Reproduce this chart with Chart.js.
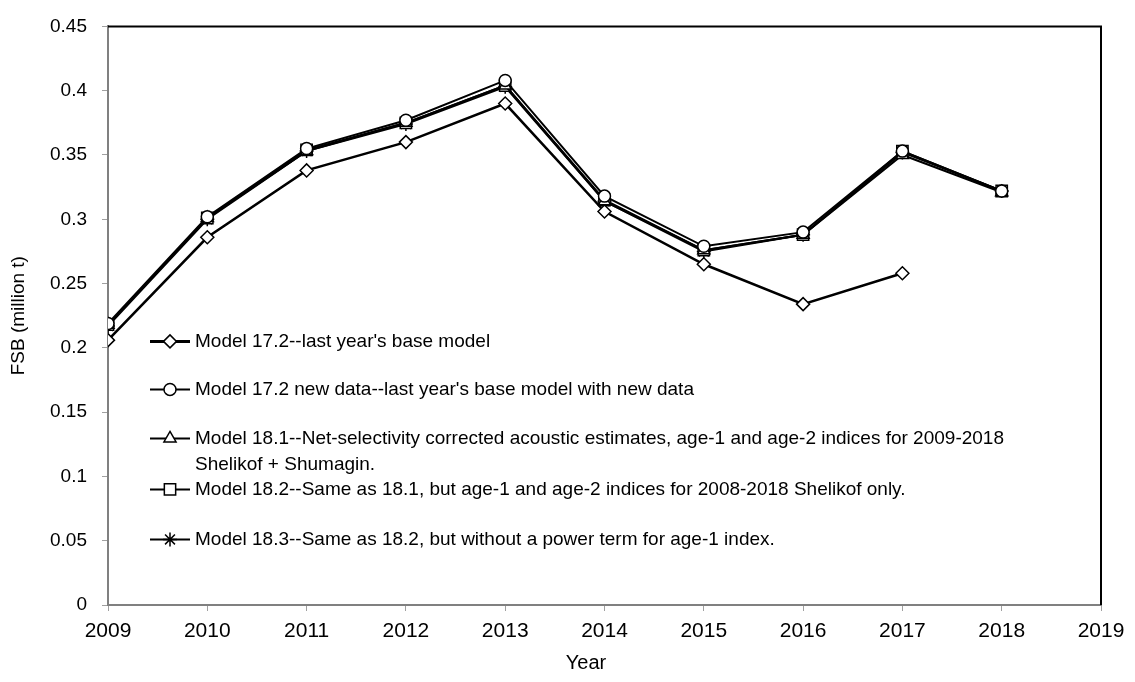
<!DOCTYPE html>
<html>
<head>
<meta charset="utf-8">
<script src="https://cdn.jsdelivr.net/npm/chart.js@4"></script>
<style>
  html, body { margin: 0; padding: 0; background: #fff; }
  #wrap { width: 1135px; height: 682px; }
</style>
</head>
<body>
<div id="wrap"><canvas id="myChart" width="1135" height="682"></canvas></div>
<script>
// years on the x axis
const years = [2009, 2010, 2011, 2012, 2013, 2014, 2015, 2016, 2017, 2018];

// FSB (million t) per model
const model172 = [0.206, 0.286, 0.338, 0.360, 0.390, 0.306, 0.265, 0.234, 0.258, null];
const model172new = [0.219, 0.302, 0.355, 0.377, 0.408, 0.318, 0.279, 0.290, 0.353, 0.322];
const model181 = [0.218, 0.301, 0.353, 0.375, 0.404, 0.314, 0.276, 0.288, 0.350, 0.321];
const model182 = [0.218, 0.301, 0.354, 0.375, 0.404, 0.315, 0.276, 0.288, 0.353, 0.322];
const model183 = [0.217, 0.300, 0.353, 0.374, 0.403, 0.314, 0.275, 0.288, 0.352, 0.322];

const seriesLabels = [
    ["Model 17.2--last year's base model"],
    ["Model 17.2 new data--last year's base model with new data"],
    ["Model 18.1--Net-selectivity corrected acoustic estimates, age-1 and age-2 indices for 2009-2018", "Shelikof + Shumagin."],
    ["Model 18.2--Same as 18.1, but age-1 and age-2 indices for 2008-2018 Shelikof only."],
    ["Model 18.3--Same as 18.2, but without a power term for age-1 index."]
];
const xTitle = 'Year';

const fontFamily = "'Liberation Sans', Arial, sans-serif";

function toPoints(values) {
    return years.map((yr, i) => ({ x: yr, y: values[i] }));
}

function series(label, values, style, radius, lineWidth) {
    return {
        label: label,
        data: toPoints(values),
        borderColor: '#000',
        backgroundColor: '#fff',
        borderWidth: lineWidth,
        pointStyle: style,
        pointRadius: radius,
        pointHoverRadius: radius,
        pointBorderColor: '#000',
        pointBackgroundColor: '#fff',
        pointBorderWidth: 1.5,
        tension: 0,
        spanGaps: false
    };
}

// top and right frame lines, plus the x title (sits a little left of centre)
const framePlugin = {
    id: 'frame',
    beforeDatasetsDraw(chart) {
        const a = chart.chartArea;
        const ctx = chart.ctx;
        ctx.save();
        ctx.strokeStyle = '#000';
        ctx.lineWidth = 2;
        ctx.beginPath();
        ctx.moveTo(a.left, a.top);
        ctx.lineTo(a.right, a.top);
        ctx.lineTo(a.right, a.bottom);
        ctx.stroke();
        ctx.font = '20px ' + fontFamily;
        ctx.fillStyle = '#000';
        ctx.textAlign = 'center';
        ctx.textBaseline = 'middle';
        ctx.fillText(xTitle, 586, 663);
        ctx.restore();
    }
};

// legend sitting inside the plot
const innerLegend = {
    id: 'innerLegend',
    afterDatasetsDraw(chart) {
        const a = chart.chartArea;
        const ctx = chart.ctx;
        const rows = [315, 363, 412, 463, 513];
        ctx.save();
        ctx.font = '19px ' + fontFamily;
        ctx.textBaseline = 'middle';
        chart.data.datasets.forEach((ds, i) => {
            const y = a.top + rows[i];
            const x0 = a.left + 42;
            ctx.strokeStyle = '#000';
            ctx.lineWidth = i === 0 ? 3 : 2;
            ctx.beginPath();
            ctx.moveTo(x0, y);
            ctx.lineTo(x0 + 40, y);
            ctx.stroke();
            ctx.fillStyle = '#fff';
            ctx.lineWidth = 1.5;
            Chart.helpers.drawPoint(ctx, { pointStyle: ds.pointStyle, radius: ds.pointRadius, borderWidth: 1.5 }, x0 + 20, y);
            ctx.fillStyle = '#000';
            seriesLabels[i].forEach((line, j) => {
                ctx.fillText(line, x0 + 45, y + j * 26);
            });
        });
        ctx.restore();
    }
};

const ctx = document.getElementById('myChart').getContext('2d');
new Chart(ctx, {
    type: 'line',
    data: {
        datasets: [
            series(seriesLabels[0][0], model172, 'rectRot', 6.5, 2.5),
            series(seriesLabels[1][0], model172new, 'circle', 6, 2),
            series(seriesLabels[2][0], model181, 'triangle', 7, 2),
            series(seriesLabels[3][0], model182, 'rect', 8, 2),
            series(seriesLabels[4][0], model183, 'star', 7, 2)
        ]
    },
    options: {
        responsive: false,
        animation: false,
        layout: { padding: { left: 0, top: 20, right: 34, bottom: 0 } },
        plugins: {
            legend: { display: false },
            tooltip: { enabled: false }
        },
        scales: {
            x: {
                type: 'linear',
                min: 2009,
                max: 2019,
                ticks: {
                    stepSize: 1,
                    padding: 8,
                    color: '#000',
                    font: { size: 21, family: fontFamily },
                    callback: v => String(v)
                },
                grid: { drawOnChartArea: false, drawTicks: true, tickLength: 6, tickColor: '#a0a0a0' },
                border: { color: '#808080', width: 2 },
                afterFit(scale) { scale.height = 77; }
            },
            y: {
                min: 0,
                max: 0.45,
                ticks: {
                    stepSize: 0.05,
                    padding: 15,
                    color: '#000',
                    font: { size: 19, family: fontFamily },
                    callback: v => String(Number(v.toFixed(2)))
                },
                grid: { drawOnChartArea: false, drawTicks: true, tickLength: 6, tickColor: '#a0a0a0' },
                border: { color: '#808080', width: 2 },
                title: {
                    display: true,
                    text: 'FSB (million t)',
                    color: '#000',
                    font: { size: 19, family: fontFamily },
                    padding: { top: 7, bottom: 0 }
                },
                afterFit(scale) { scale.width = 108; }
            }
        }
    },
    plugins: [framePlugin, innerLegend]
});
</script>
</body>
</html>
